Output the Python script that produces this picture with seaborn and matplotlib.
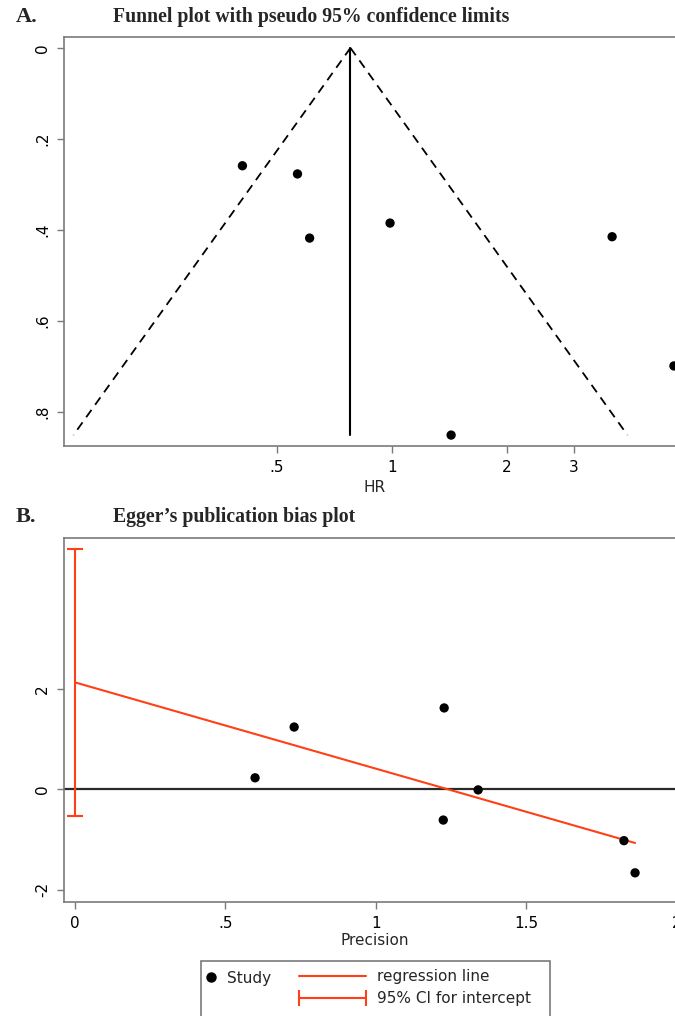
import numpy as np
import matplotlib
matplotlib.use("Agg")
import matplotlib.pyplot as plt
import seaborn as sns
from matplotlib.lines import Line2D
from matplotlib.legend_handler import HandlerLine2D
from matplotlib.patches import Rectangle

# ---- panel A: funnel plot (HR vs s.e. of log HR) ----
hr = [0.407, 0.567, 0.610, 0.99, 3.77, 5.47, 1.43]
se_hr = [0.259, 0.277, 0.418, 0.385, 0.415, 0.699, 0.851]
pooled_hr = 0.78
hr_ticks = [0.5, 1, 2, 3]
hr_ticklabels = [".5", "1", "2", "3"]
se_ticks = [0, 0.2, 0.4, 0.6, 0.8]
se_ticklabels = ["0", ".2", ".4", ".6", ".8"]

# ---- panel B: Egger's plot ----
precision = [0.599, 0.729, 1.228, 1.225, 1.341, 1.826, 1.863]
std_effect = [0.23, 1.24, 1.62, -0.61, -0.01, -1.02, -1.66]
prec_ticks = [0, 0.5, 1, 1.5, 2]
prec_ticklabels = ["0", ".5", "1", "1.5", "2"]
eff_ticks = [-2, 0, 2]
eff_ticklabels = ["-2", "0", "2"]

RED = "#ff4016"
GRAY = "#7a7a7a"

sns.set_style("ticks")
plt.rcParams["font.family"] = ["DejaVu Sans"]

W, H = 675, 1016
fig = plt.figure(figsize=(W / 100, H / 100), dpi=100)


def px_axes(left, top, right, bottom):
    return fig.add_axes([left / W, 1 - bottom / H, (right - left) / W, (bottom - top) / H])


def style_axes(ax):
    for s in ax.spines.values():
        s.set_color(GRAY)
        s.set_linewidth(1.2)
    ax.tick_params(axis="both", colors=GRAY, labelcolor="black", length=5,
                   width=1, labelsize=11, pad=5)


# ================= A =================
axA = px_axes(64, 37, 700, 446)
theta = np.log(pooled_hr)
se_max = max(se_hr)
se_line = np.array([0, se_max])
axA.plot(np.exp(theta - 1.96 * se_line), se_line, color="black", lw=1.3, ls=(0, (5, 3.5)))
axA.plot(np.exp(theta + 1.96 * se_line), se_line, color="black", lw=1.3, ls=(0, (5, 3.5)))
axA.plot([pooled_hr, pooled_hr], se_line, color="black", lw=1.5)
sns.scatterplot(x=hr, y=se_hr, ax=axA, color="black", s=45, edgecolor="none", zorder=3)
axA.set_xscale("log")
axA.set_xlim(0.139, 6.4)
axA.set_ylim(0.875, -0.024)
axA.set_xticks(hr_ticks)
axA.set_xticklabels(hr_ticklabels)
axA.minorticks_off()
axA.set_yticks(se_ticks)
axA.set_yticklabels(se_ticklabels, rotation=90, va="center")
style_axes(axA)
axA.set_xlabel("HR", fontsize=11)
axA.xaxis.set_label_coords((375 - 64) / 636, -0.083)

# ================= B =================
axB = px_axes(64, 538, 700, 902)
slope, intercept = np.polyfit(precision, std_effect, 1)
x = np.array(precision)
y = np.array(std_effect)
n = len(x)
resid = y - (intercept + slope * x)
s = np.sqrt(np.sum(resid ** 2) / (n - 2))
se_int = s * np.sqrt(1 / n + x.mean() ** 2 / np.sum((x - x.mean()) ** 2))
t_crit = 2.5706  # t(0.975, 5)
ci_lo, ci_hi = intercept - t_crit * se_int, intercept + t_crit * se_int

axB.axhline(0, color="#2a2a2a", lw=1.6, zorder=1)
axB.plot([0, x.max()], [intercept, intercept + slope * x.max()], color=RED, lw=1.5, zorder=2)
axB.errorbar([0], [intercept], yerr=[[intercept - ci_lo], [ci_hi - intercept]],
             fmt="none", ecolor=RED, elinewidth=1.5, capsize=5.5, capthick=1.5, zorder=2)
sns.scatterplot(x=precision, y=std_effect, ax=axB, color="black", s=45, edgecolor="none", zorder=3)
axB.set_xlim(-0.0366, 2.079)
axB.set_ylim(-2.24, 5.0)
axB.set_xticks(prec_ticks)
axB.set_xticklabels(prec_ticklabels)
axB.set_yticks(eff_ticks)
axB.set_yticklabels(eff_ticklabels, rotation=90, va="center")
style_axes(axB)
axB.set_xlabel("Precision", fontsize=11)
axB.xaxis.set_label_coords((375 - 64) / 636, -0.085)

# ================= titles =================
serif = ["Liberation Serif", "DejaVu Serif"]
fig.text(16 / W, 1 - 17 / H, "A.", fontsize=16, fontweight="bold", family=serif, va="center")
fig.text(113 / W, 1 - 17 / H, "Funnel plot with pseudo 95% confidence limits",
         fontsize=14.2, fontweight="bold", family=serif, va="center")
fig.text(16 / W, 1 - 517 / H, "B.", fontsize=16, fontweight="bold", family=serif, va="center")
fig.text(113 / W, 1 - 517 / H, "Egger\u2019s publication bias plot",
         fontsize=14.2, fontweight="bold", family=serif, va="center")

# ================= legend =================
fig.patches.append(Rectangle((201 / W, 1 - 1040 / H), 349 / W, 79 / H, transform=fig.transFigure,
                             fill=False, edgecolor=GRAY, lw=1.2))
h_study = Line2D([], [], marker="o", ls="none", color="black", ms=6.5)
leg1 = fig.legend([h_study], ["Study"], loc="center left", bbox_to_anchor=(203 / W, 1 - 978 / H),
                  frameon=False, handlelength=1.0, handletextpad=0.55, borderpad=0,
                  borderaxespad=0, fontsize=11)
h_reg = Line2D([], [], color=RED, lw=1.5)
h_ci = Line2D([], [], color=RED, lw=1.5, marker="|", ms=12, mew=1.5)
fig.legend([h_reg, h_ci], ["regression line", "95% CI for intercept"], loc="upper left",
           bbox_to_anchor=(299 / W, 1 - 969 / H), frameon=False, handlelength=4.38,
           handletextpad=0.72, borderpad=0, borderaxespad=0, labelspacing=0.46, fontsize=11,
           handler_map={h_ci: HandlerLine2D(numpoints=2, marker_pad=0)})

fig.savefig("out.png", dpi=100)
